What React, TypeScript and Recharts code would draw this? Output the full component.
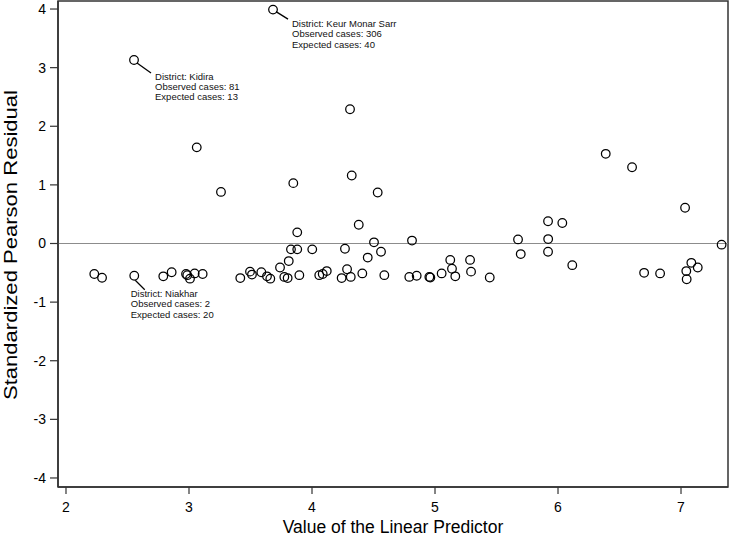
import React from "react";
import {
  ScatterChart,
  Scatter,
  XAxis,
  YAxis,
  ReferenceLine,
  ReferenceArea,
  Label,
} from "recharts";

// value of the linear predictor, one per district
const predictor = [
  2.23, 2.293, 2.555, 2.791, 2.859, 2.976, 2.986, 3.008, 3.046, 3.111,
  3.26, 3.417, 3.496, 3.512, 3.588, 3.634, 3.661, 3.74, 3.775, 3.802,
  3.811, 3.829, 3.848, 3.88, 3.88, 3.897, 4.002, 4.059, 4.087, 4.12,
  4.241, 4.268, 4.285, 4.315, 4.309, 4.323, 4.38, 4.409, 4.453, 4.504,
  4.534, 4.561, 4.588, 4.791, 4.813, 4.851, 4.954, 4.962, 5.054, 5.124,
  5.138, 5.165, 5.285, 5.293, 5.445, 5.675, 5.697, 5.919, 6.035, 5.92,
  5.919, 6.116, 6.388, 6.602, 6.7, 6.83, 7.033, 7.043, 7.046, 7.084,
  7.136, 7.33, 2.553, 3.683, 3.063,
];

// standardized pearson residual, same order
const residual = [
  -0.52, -0.585, -0.55, -0.56, -0.49, -0.52, -0.54, -0.6, -0.51, -0.52,
  0.88, -0.59, -0.48, -0.53, -0.49, -0.56, -0.6, -0.41, -0.57, -0.59,
  -0.3, -0.1, 1.03, 0.19, -0.1, -0.54, -0.1, -0.54, -0.52, -0.47,
  -0.59, -0.09, -0.44, -0.57, 2.29, 1.16, 0.32, -0.51, -0.24, 0.02,
  0.87, -0.14, -0.54, -0.57, 0.05, -0.55, -0.57, -0.58, -0.51, -0.28,
  -0.43, -0.56, -0.28, -0.48, -0.58, 0.07, -0.18, 0.38, 0.35, 0.075,
  -0.14, -0.37, 1.53, 1.3, -0.5, -0.51, 0.61, -0.47, -0.61, -0.33,
  -0.41, -0.02, 3.13, 3.99, 1.64,
];

// labelled districts (index into the arrays above)
const labelledIndex = [72, 73, 2];
const labelledDistrict = ["Kidira", "Keur Monar Sarr", "Niakhar"];
const labelledObserved = [81, 306, 2];
const labelledExpected = [13, 40, 20];

const xTicks = [2, 3, 4, 5, 6, 7];
const yTicks = [-4, -3, -2, -1, 0, 1, 2, 3, 4];
const xDomain = [1.935, 7.382];
const yDomain = [-4.154, 4.137];

// pixel offsets of the callouts relative to their point
const calloutStyle: Record<string, any> = {
  Kidira: { line: [3, 3, 17, 13], dx: 21, dy: 19.5 },
  "Keur Monar Sarr": { line: [3, 2, 15, 9.5], dx: 19, dy: 17.3 },
  Niakhar: { line: [1, 4.5, 10.5, 14], dx: -3.5, dy: 21.3 },
};

const FONT = "'Liberation Sans', Arial, sans-serif";
const AXIS = "#333";

const points = predictor.map((x, i) => ({ x, y: residual[i] }));
const labelled = labelledIndex.map((idx, i) => ({
  x: predictor[idx],
  y: residual[idx],
  district: labelledDistrict[i],
  observed: labelledObserved[i],
  expected: labelledExpected[i],
}));

const Ring = (props: any) => {
  const { cx, cy } = props;
  return <circle cx={cx} cy={cy} r={4.3} fill="none" stroke="#000" strokeWidth={1.25} />;
};

const Callout = (props: any) => {
  const { cx, cy, payload } = props;
  const s = calloutStyle[payload.district];
  const lines = [
    `District: ${payload.district}`,
    `Observed cases: ${payload.observed}`,
    `Expected cases: ${payload.expected}`,
  ];
  return (
    <g>
      <line
        x1={cx + s.line[0]}
        y1={cy + s.line[1]}
        x2={cx + s.line[2]}
        y2={cy + s.line[3]}
        stroke="#000"
        strokeWidth={1.3}
      />
      {lines.map((t, i) => (
        <text
          key={i}
          x={cx + s.dx}
          y={cy + s.dy + i * 10.3}
          fontSize={9.5}
          fontFamily={FONT}
          fill="#111"
        >
          {t}
        </text>
      ))}
    </g>
  );
};

const App = () => {
  return (
    <div style={{ position: "absolute", left: 0, top: 0, width: 731, height: 540, background: "#fff" }}>
      <ScatterChart
        width={731}
        height={540}
        margin={{ top: 1, right: 3, left: 0, bottom: 0 }}
      >
        <XAxis
          type="number"
          dataKey="x"
          domain={xDomain}
          ticks={xTicks}
          allowDataOverflow
          height={53}
          tickSize={7}
          tickMargin={8}
          stroke={AXIS}
          axisLine={{ stroke: AXIS, strokeWidth: 1.5 }}
          tickLine={{ stroke: AXIS, strokeWidth: 1.2 }}
          tick={{ fill: "#000", fontSize: 14, fontFamily: FONT }}
        >
          <Label
            content={({ viewBox }: any) => (
              <text
                x={viewBox.x + viewBox.width / 2}
                y={533}
                textAnchor="middle"
                fontSize={17.5}
                fontFamily={FONT}
                fill="#000"
              >
                Value of the Linear Predictor
              </text>
            )}
          />
        </XAxis>
        <YAxis
          type="number"
          dataKey="y"
          domain={yDomain}
          ticks={yTicks}
          allowDataOverflow
          width={58}
          tickSize={8}
          tickMargin={4}
          stroke={AXIS}
          axisLine={{ stroke: AXIS, strokeWidth: 1.5 }}
          tickLine={{ stroke: AXIS, strokeWidth: 1.2 }}
          tick={{ fill: "#000", fontSize: 14, fontFamily: FONT }}
        >
          <Label
            content={({ viewBox }: any) => {
              const cy = viewBox.y + viewBox.height / 2 + 1;
              return (
                <text
                  x={17}
                  y={cy}
                  transform={`rotate(-90 17 ${cy})`}
                  textAnchor="middle"
                  fontSize={18}
                  textLength={310}
                  lengthAdjust="spacingAndGlyphs"
                  fontFamily={FONT}
                  fill="#000"
                >
                  Standardized Pearson Residual
                </text>
              );
            }}
          />
        </YAxis>
        <ReferenceArea
          x1={xDomain[0]}
          x2={xDomain[1]}
          y1={yDomain[0]}
          y2={yDomain[1]}
          fill="none"
          stroke={AXIS}
          strokeWidth={1.5}
          fillOpacity={0}
        />
        <ReferenceLine y={0} stroke="#8c8c8c" strokeWidth={1.2} />
        <Scatter data={points} shape={<Ring />} isAnimationActive={false} />
        <Scatter data={labelled} shape={<Callout />} isAnimationActive={false} />
      </ScatterChart>
    </div>
  );
};

export default App;
